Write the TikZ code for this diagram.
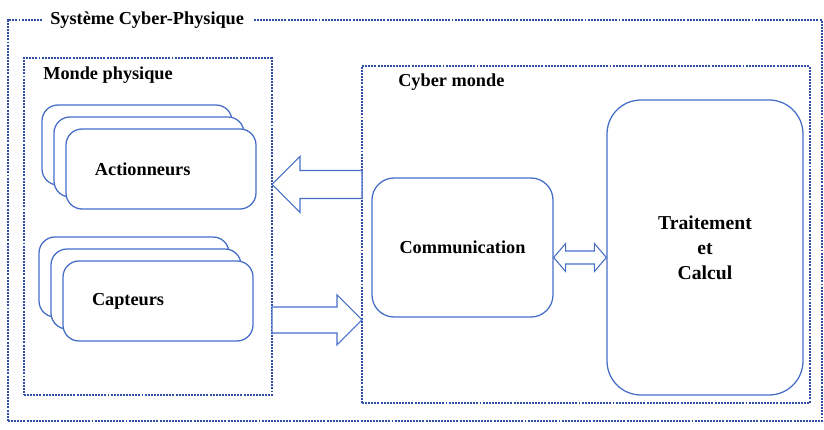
\documentclass[tikz,border=0pt]{standalone}
\usepackage{fontspec}
\setmainfont{Liberation Serif}
\usetikzlibrary{positioning,calc}

\definecolor{cpsblue}{RGB}{70,110,200}
\definecolor{cpsdash}{RGB}{48,78,165}

\tikzset{
  zone/.style={draw=cpsdash,line width=.75pt,dash pattern=on 1.4pt off .8pt,inner sep=0pt,outer sep=0pt},
  zonetitle/.style={anchor=west,inner sep=0pt},
  card/.style={draw=cpsblue,fill=white,line width=.9pt,rounded corners=.4cm,minimum width=4.75cm,minimum height=2cm,inner sep=0pt},
  cardtext/.style={card,text width=3.3cm,inner xsep=.725cm,align=left},
  block/.style={draw=cpsblue,fill=white,line width=.9pt,align=center,inner sep=0pt},
  blockarrow/.style={draw=cpsblue,fill=white,line width=.75pt,line join=miter}
}

\begin{document}
\begin{tikzpicture}[font=\fontsize{13pt}{17.7pt}\selectfont\bfseries]
\useasboundingbox (0,0) rectangle (20.6,10.75);

% zones
\node[zone,minimum width=20.35cm,minimum height=10.025cm] (cps) at (10.375,5.2375) {};
\node[zonetitle,fill=white,inner xsep=.2cm] (cpstitle) at (1.05,10.25) {Système Cyber-Physique};
\node[zone,minimum width=6.2cm,minimum height=8.425cm] (monde) at (3.7,5.0875) {};
\node[zonetitle] (mondetitle) at (1.075,8.875) {Monde physique};
\node[zone,minimum width=11.2cm,minimum height=8.425cm] (cyber) at (14.65,4.8875) {};
\node[zonetitle] (cybertitle) at (9.95,8.7) {Cyber monde};

% rows of the block arrows
\coordinate (actrow) at (0,6.1375);
\coordinate (caprow) at (0,2.75);
\coordinate (commrow) at (0,4.3125);

% stacked cards
\node[card] (act3) at (3.425,7.125) {};
\node[card] (act2) at (3.725,6.825) {};
\node[cardtext] (act) at (4.025,6.525) {Actionneurs};
\node[card] (cap3) at (3.35,3.825) {};
\node[card] (cap2) at (3.65,3.525) {};
\node[cardtext] (cap) at (3.95,3.225) {Capteurs};

% cyber side
\node[block,rounded corners=.55cm,minimum width=4.525cm,minimum height=3.475cm] (comm) at (11.5625,4.5625) {Communication};
\node[block,rounded corners=.85cm,minimum width=4.9cm,minimum height=7.375cm,font=\fontsize{14pt}{17.7pt}\selectfont\bfseries] (calc) at (17.625,4.5625) {Traitement\\et\\Calcul};

% block arrows
\draw[blockarrow] (monde.east |- actrow) -- ++(.7,.7) -- ++(0,-.35) -- ($(cyber.west |- actrow)+(0,.35)$) -- ++(0,-.7) -- ($(monde.east |- actrow)+(.7,-.35)$) -- ++(0,-.35) -- cycle;
\draw[blockarrow] (cyber.west |- caprow) -- ++(-.625,.625) -- ++(0,-.3) -- ($(monde.east |- caprow)+(0,.325)$) -- ++(0,-.65) -- ($(cyber.west |- caprow)+(-.625,-.325)$) -- ++(0,-.3) -- cycle;
\draw[blockarrow] (comm.east |- commrow) -- ++(.3,.35) -- ++(0,-.1875) -- ($(calc.west |- commrow)+(-.3,.1625)$) -- ++(0,.1875) -- (calc.west |- commrow) -- ++(-.3,-.35) -- ++(0,.1875) -- ($(comm.east |- commrow)+(.3,-.1625)$) -- ++(0,-.1875) -- cycle;
\end{tikzpicture}
\end{document}
